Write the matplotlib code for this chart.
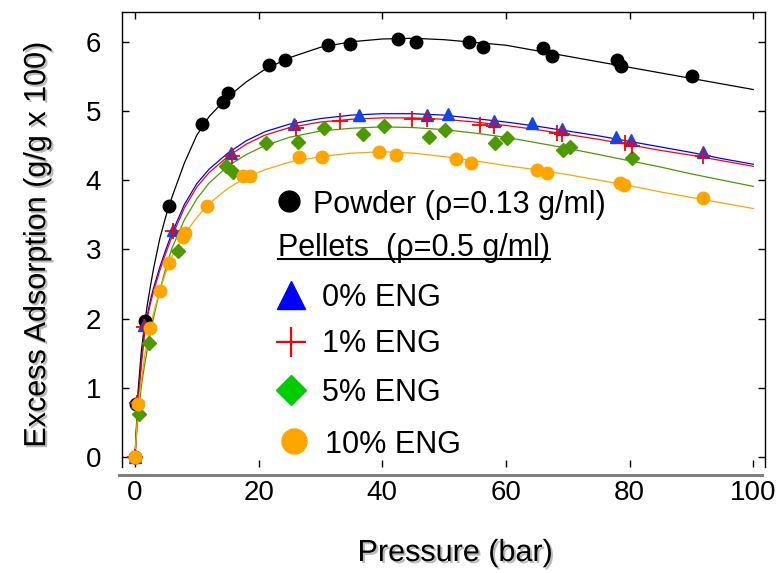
import matplotlib
matplotlib.use('Agg')
import matplotlib.pyplot as plt
import matplotlib.patheffects as pe
from matplotlib.lines import Line2D

plt.rcParams['font.family'] = ['Liberation Sans Narrow', 'Liberation Sans', 'DejaVu Sans']

# measured points
powder_p = [0, 0.2, 1.6, 5.5, 10.9, 14.3, 15.1, 21.6, 24.3, 31.2, 34.7, 42.6, 45.5,
            54.1, 56.3, 66.0, 67.4, 78.0, 78.6, 90.1]
powder_q = [0, 0.76, 1.96, 3.63, 4.81, 5.13, 5.26, 5.66, 5.74, 5.95, 5.97, 6.04, 6.0,
            6.0, 5.93, 5.91, 5.79, 5.73, 5.65, 5.51]

eng0_p = [0, 0.3, 1.4, 6.2, 15.5, 25.7, 36.3, 47.2, 50.7, 58.0, 64.2, 69.0, 77.8, 80.2, 91.9]
eng0_q = [0, 0.8, 1.9, 3.28, 4.39, 4.81, 4.94, 4.94, 4.96, 4.86, 4.82, 4.74, 4.62, 4.58, 4.40]

eng1_p = [0, 0.3, 1.4, 6.2, 15.7, 26.0, 33.1, 44.8, 47.3, 55.8, 58.0, 68.2, 69.0, 79.3, 80.4, 91.9]
eng1_q = [0, 0.78, 1.88, 3.26, 4.35, 4.76, 4.85, 4.89, 4.88, 4.80, 4.78, 4.68, 4.66, 4.53, 4.50, 4.35]

eng5_p = [0, 0.7, 2.3, 6.9, 14.7, 15.9, 21.2, 26.4, 30.6, 36.8, 40.2, 47.5, 50.2, 58.3,
          60.1, 69.2, 70.3, 80.4]
eng5_q = [0, 0.62, 1.64, 2.98, 4.2, 4.12, 4.53, 4.55, 4.76, 4.67, 4.78, 4.63, 4.73, 4.53,
          4.61, 4.44, 4.48, 4.32]

eng10_p = [0, 0.5, 2.4, 4.0, 5.55, 7.8, 8.1, 11.7, 17.5, 18.6, 26.6, 30.3, 39.4, 42.2,
           51.9, 54.3, 65.0, 66.6, 78.4, 79.1, 91.9]
eng10_q = [0, 0.77, 1.86, 2.40, 2.80, 3.18, 3.23, 3.63, 4.06, 4.06, 4.33, 4.33, 4.40, 4.36,
           4.30, 4.25, 4.15, 4.11, 3.96, 3.93, 3.74]

# fitted curves
fit_p = [0, 0.5, 1, 1.5, 2, 2.5, 3, 4, 5, 6, 8, 10, 12, 15, 18, 21, 25, 30, 35, 40,
         45, 50, 55, 60, 65, 70, 75, 80, 85, 90, 95, 100]
fit_powder = [0, 0.95, 1.5, 1.88, 2.2, 2.47, 2.72, 3.15, 3.48, 3.76, 4.25, 4.65, 4.92, 5.2,
              5.42, 5.6, 5.77, 5.92, 6.0, 6.04, 6.05, 6.03, 5.99, 5.95, 5.87, 5.79, 5.71,
              5.63, 5.55, 5.47, 5.39, 5.31]
fit_eng0 = [0, 0.78, 1.35, 1.78, 2.05, 2.27, 2.44, 2.74, 3.0, 3.24, 3.65, 3.95, 4.16, 4.39,
            4.57, 4.7, 4.81, 4.89, 4.94, 4.96, 4.96, 4.94, 4.89, 4.84, 4.78, 4.71, 4.64,
            4.56, 4.48, 4.40, 4.31, 4.23]
fit_eng1 = [0, 0.76, 1.32, 1.74, 2.01, 2.22, 2.39, 2.69, 2.95, 3.19, 3.6, 3.9, 4.11, 4.34,
            4.52, 4.65, 4.76, 4.84, 4.88, 4.90, 4.90, 4.88, 4.84, 4.79, 4.73, 4.66, 4.59,
            4.51, 4.43, 4.36, 4.28, 4.20]
fit_eng5 = [0, 0.6, 1.0, 1.3, 1.56, 1.8, 2.01, 2.4, 2.74, 3.02, 3.43, 3.73, 3.96, 4.2,
            4.37, 4.5, 4.62, 4.71, 4.75, 4.77, 4.76, 4.73, 4.68, 4.62, 4.54, 4.46, 4.37,
            4.28, 4.19, 4.09, 4.0, 3.91]
fit_eng10 = [0, 0.74, 1.1, 1.42, 1.68, 1.9, 2.08, 2.4, 2.67, 2.9, 3.22, 3.46, 3.66, 3.88,
             4.04, 4.15, 4.26, 4.34, 4.39, 4.41, 4.39, 4.34, 4.28, 4.21, 4.15, 4.08, 4.0,
             3.92, 3.83, 3.75, 3.67, 3.59]

fig = plt.figure(figsize=(7.79, 5.73), dpi=100)
ax = fig.add_axes([122 / 779, 106 / 573, 643 / 779, 455 / 573])

ax.plot(fit_p, fit_powder, color='black', lw=0.9, zorder=2)
ax.plot(fit_p, fit_eng0, color='#0000FF', lw=0.9, zorder=2)
ax.plot(fit_p, fit_eng1, color='#FF0000', lw=0.9, zorder=2)
ax.plot(fit_p, fit_eng5, color='#4D9A00', lw=0.9, zorder=2)
ax.plot(fit_p, fit_eng10, color='#FFA500', lw=0.9, zorder=2)

ax.plot(powder_p, powder_q, 'o', color='black', ms=9, zorder=3)
ax.plot(eng0_p, eng0_q, '^', color='#1446E6', ms=9, zorder=3)
ax.plot(eng1_p, eng1_q, '+', color='#FF0000', ms=11, mew=1.3, zorder=4)
ax.plot(eng5_p, eng5_q, 'D', color='#4D9A00', ms=7.5, zorder=3)
ax.plot(eng10_p, eng10_q, 'o', color='#FFA500', ms=9, zorder=5)

ax.set_xlim(-2.1, 101.9)
ax.set_ylim(-0.145, 6.43)
ax.set_xticks([0, 20, 40, 60, 80, 100])
ax.set_yticks([0, 1, 2, 3, 4, 5, 6])

ax.spines['bottom'].set_visible(False)
for s in ['left', 'right', 'top']:
    ax.spines[s].set_linewidth(1.0)
ax.axhline(-0.26, xmin=-0.005, xmax=0.995, color='#808080', lw=2.2, clip_on=False)

ax.tick_params(axis='both', direction='in', length=5, width=1, labelsize=20,
               top=True, right=True)
ax.tick_params(axis='x', pad=9)
ax.tick_params(axis='y', pad=15)

shadow = [pe.SimplePatchShadow(offset=(1.5, -1.5), shadow_rgbFace='0.4', alpha=0.45), pe.Normal()]
ax.set_xlabel('Pressure (bar)', fontsize=22, va='center', path_effects=shadow)
ax.set_ylabel('Excess Adsorption (g/g x 100)', fontsize=22, va='center', path_effects=shadow)
ax.xaxis.set_label_coords(0.518, -0.189)
ax.yaxis.set_label_coords(-0.132, 0.488)

# legend block
fs = 22
ax.plot([24.9], [3.70], 'o', color='black', ms=15)
ax.text(28.8, 3.52, 'Powder (\u03c1=0.13 g/ml)', fontsize=fs, va='baseline')
pel = ax.text(23.1, 2.90, 'Pellets  (\u03c1=0.5 g/ml)', fontsize=fs, va='baseline')
ax.plot([25.2], [2.34], '^', color='#0000FF', ms=20)
ax.text(30.3, 2.18, '0% ENG', fontsize=fs, va='baseline')
ax.plot([25.2], [1.66], '+', color='#FF0000', ms=21, mew=1.6)
ax.text(30.3, 1.51, '1% ENG', fontsize=fs, va='baseline')
ax.plot([25.2], [0.97], 'D', color='#00CC00', ms=15)
ax.text(30.3, 0.81, '5% ENG', fontsize=fs, va='baseline')
ax.plot([25.7], [0.23], 'o', color='#FFA500', ms=18)
ax.text(30.7, 0.06, '10% ENG', fontsize=fs, va='baseline')

# underline for the pellets heading
fig.canvas.draw()
bb = pel.get_window_extent()
y_line = ax.transData.transform((0, 2.90))[1] - 3
fig.add_artist(Line2D([bb.x0, bb.x1], [y_line, y_line], color='black', lw=1.5,
                      transform=None))

fig.savefig('out.png', dpi=100)
